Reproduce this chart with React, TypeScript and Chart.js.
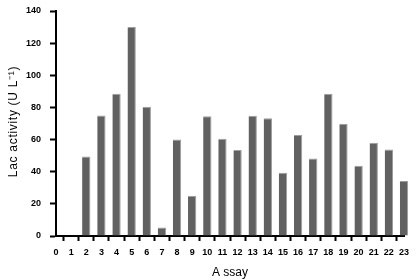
import React, { useEffect, useRef } from "react";
import { Chart, registerables } from "chart.js";

Chart.register(...registerables);

const categories = ["0","1","2","3","4","5","6","7","8","9","10","11","12","13","14","15","16","17","18","19","20","21","22","23"];
const lacActivity = [0, 0, 49.5, 75, 88.5, 130, 80.5, 5.3, 60, 25, 74.5, 60.5, 53.5, 74.8, 73.2, 39.3, 62.8, 48.3, 88.5, 69.8, 43.7, 58, 53.8, 34.3];
const yTicks = [0, 20, 40, 60, 80, 100, 120, 140];
const yTitle = "Lac activity (U L\u207B\u00B9)";
const xTitle = "A ssay";

const FONT = "'Liberation Sans', Arial, sans-serif";

const yTitlePlugin = {
  id: "yTitleSpaced",
  afterDraw(chart: any) {
    const ctx = chart.ctx as CanvasRenderingContext2D;
    const area = chart.chartArea;
    ctx.save();
    ctx.translate(14, (area.top + area.bottom) / 2 - 2);
    ctx.rotate(-Math.PI / 2);
    ctx.font = `12px ${FONT}`;
    (ctx as any).letterSpacing = "0.7px";
    ctx.fillStyle = "#000";
    ctx.textAlign = "center";
    ctx.textBaseline = "middle";
    ctx.fillText(yTitle, 0, 0);
    ctx.restore();
  },
};

export default function App() {
  const ref = useRef<HTMLCanvasElement | null>(null);
  useEffect(() => {
    if (!ref.current) return;
    const chart = new Chart(ref.current, {
      type: "bar",
      data: {
        labels: categories,
        datasets: [
          {
            data: lacActivity,
            backgroundColor: "#616161",
            borderColor: "#9e9e9e",
            borderWidth: { top: 1, right: 1, left: 0, bottom: 0 },
            barPercentage: 0.55,
            categoryPercentage: 1,
            clip: false as any,
          },
        ],
      },
      options: {
        animation: false,
        responsive: false,
        maintainAspectRatio: false,
        layout: { padding: { left: 0, right: 13, top: 11, bottom: 0 } },
        plugins: { legend: { display: false }, tooltip: { enabled: false } },
        scales: {
          x: {
            type: "category",
            offset: false,
            grid: { display: true, drawOnChartArea: false, drawTicks: true, tickLength: 5, tickWidth: 2, tickColor: "#000" },
            border: { display: true, width: 2, color: "#000" },
            ticks: { color: "#000", font: { family: FONT, size: 9, weight: "bold" }, padding: 6, maxRotation: 0, autoSkip: false },
            title: { display: true, text: xTitle, color: "#000", font: { family: FONT, size: 12 }, padding: { top: 6, bottom: 0 } },
            afterFit: (s: any) => { s.height = 44; s.paddingLeft = 0; s.paddingRight = 0; },
          },
          y: {
            min: 0,
            max: 140,
            afterBuildTicks: (s: any) => { s.ticks = yTicks.map((v) => ({ value: v })); },
            grid: { display: true, drawOnChartArea: false, drawTicks: true, tickLength: 6, tickWidth: 2, tickColor: "#000" },
            border: { display: true, width: 2, color: "#000" },
            ticks: { color: "#000", font: { family: FONT, size: 9, weight: "bold" }, padding: 9 },
            title: { display: false },
            afterFit: (s: any) => { s.width = 56; s.paddingTop = 0; s.paddingBottom = 0; },
          },
        },
      },
      plugins: [yTitlePlugin],
    });
    return () => chart.destroy();
  }, []);
  return (
    <div style={{ position: "fixed", left: 0, top: 0, width: 417, height: 280, background: "#fff" }}>
      <canvas ref={ref} width={417} height={280} style={{ width: 417, height: 280 }} />
    </div>
  );
}
